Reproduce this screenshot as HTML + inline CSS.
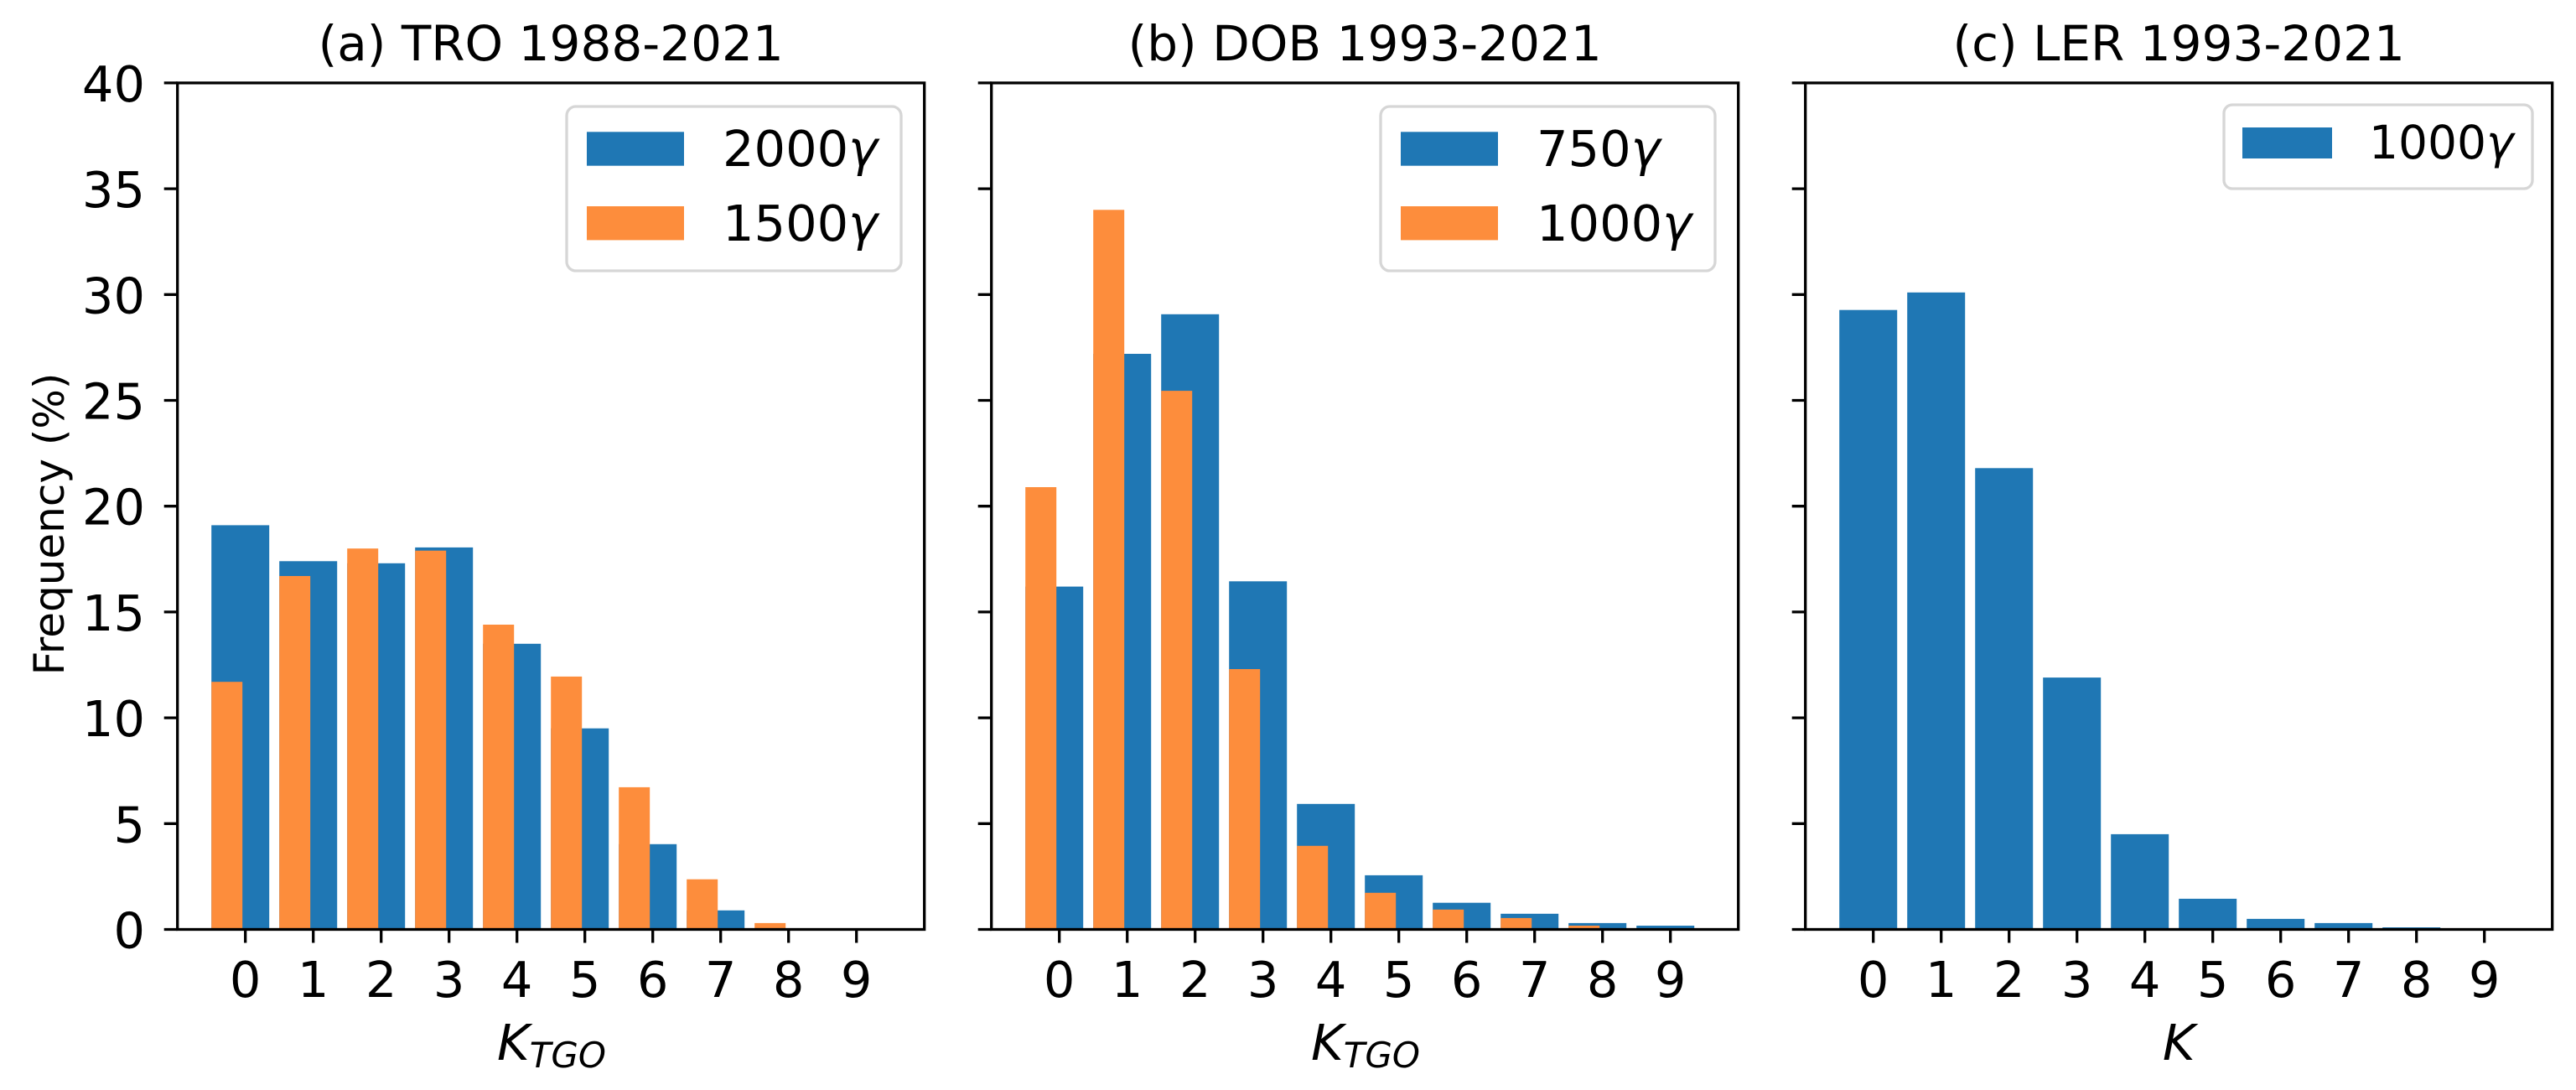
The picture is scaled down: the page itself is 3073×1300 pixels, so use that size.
<!DOCTYPE html>
<html>
<head>
<meta charset="utf-8">
<style>
  html, body { margin: 0; padding: 0; background: #ffffff; }
  body { width: 3073px; height: 1300px; overflow: hidden; }
  svg { display: block; }
  text { font-family: "DejaVu Sans", "Liberation Sans", sans-serif; fill: #000; }
</style>
</head>
<body>
<svg width="3073" height="1300" viewBox="0 0 3073 1300" xmlns="http://www.w3.org/2000/svg">
  <rect x="0" y="0" width="3073" height="1300" fill="#ffffff"/>

  <!-- ========== Panel (a) bars ========== -->
  <g fill="#1f77b4">
    <rect x="252.2" y="626.4" width="69" height="482.1"/>
    <rect x="333.2" y="669.3" width="69" height="439.2"/>
    <rect x="414.2" y="671.8" width="69" height="436.7"/>
    <rect x="495.2" y="652.9" width="69" height="455.6"/>
    <rect x="576.2" y="767.8" width="69" height="340.7"/>
    <rect x="657.2" y="868.7" width="69" height="239.8"/>
    <rect x="738.2" y="1006.8" width="69" height="101.7"/>
    <rect x="819.2" y="1085.8" width="69" height="22.7"/>
  </g>
  <g fill="#fd8d3c">
    <rect x="252.2" y="813.2" width="37" height="295.3"/>
    <rect x="333.2" y="687.0" width="37" height="421.5"/>
    <rect x="414.2" y="654.2" width="37" height="454.3"/>
    <rect x="495.2" y="656.7" width="37" height="451.8"/>
    <rect x="576.2" y="745.0" width="37" height="363.5"/>
    <rect x="657.2" y="806.9" width="37" height="301.6"/>
    <rect x="738.2" y="938.9" width="37" height="169.6"/>
    <rect x="819.2" y="1048.7" width="37" height="59.8"/>
    <rect x="900.2" y="1100.9" width="37" height="7.6"/>
  </g>

  <!-- ========== Panel (b) bars ========== -->
  <g fill="#1f77b4">
    <rect x="1223.2" y="699.6" width="69" height="408.9"/>
    <rect x="1304.2" y="422.0" width="69" height="686.5"/>
    <rect x="1385.2" y="374.8" width="69" height="733.7"/>
    <rect x="1466.2" y="693.3" width="69" height="415.2"/>
    <rect x="1547.2" y="958.8" width="69" height="149.7"/>
    <rect x="1628.2" y="1043.9" width="69" height="64.6"/>
    <rect x="1709.2" y="1076.7" width="69" height="31.8"/>
    <rect x="1790.2" y="1089.8" width="69" height="18.7"/>
    <rect x="1871.2" y="1100.9" width="69" height="7.6"/>
    <rect x="1952.2" y="1104.0" width="69" height="4.5"/>
  </g>
  <g fill="#fd8d3c">
    <rect x="1223.2" y="581.0" width="37" height="527.5"/>
    <rect x="1304.2" y="250.3" width="37" height="858.2"/>
    <rect x="1385.2" y="466.1" width="37" height="642.4"/>
    <rect x="1466.2" y="798.0" width="37" height="310.5"/>
    <rect x="1547.2" y="1008.8" width="37" height="99.7"/>
    <rect x="1628.2" y="1064.8" width="37" height="43.7"/>
    <rect x="1709.2" y="1084.8" width="37" height="23.7"/>
    <rect x="1790.2" y="1094.9" width="37" height="13.6"/>
    <rect x="1871.2" y="1104.0" width="37" height="4.5"/>
  </g>

  <!-- ========== Panel (c) bars ========== -->
  <g fill="#1f77b4">
    <rect x="2194.2" y="369.7" width="69" height="738.8"/>
    <rect x="2275.2" y="348.8" width="69" height="759.7"/>
    <rect x="2356.2" y="558.3" width="69" height="550.2"/>
    <rect x="2437.2" y="808.1" width="69" height="300.4"/>
    <rect x="2518.2" y="994.9" width="69" height="113.6"/>
    <rect x="2599.2" y="1071.9" width="69" height="36.6"/>
    <rect x="2680.2" y="1095.9" width="69" height="12.6"/>
    <rect x="2761.2" y="1100.9" width="69" height="7.6"/>
    <rect x="2842.2" y="1106.0" width="69" height="2.5"/>
    <rect x="2923.2" y="1107.2" width="69" height="1.3"/>
  </g>

  <!-- ========== Spines ========== -->
  <g fill="none" stroke="#000" stroke-width="3.3">
    <rect x="211.7" y="98.9" width="891" height="1009.6"/>
    <rect x="1182.7" y="98.9" width="891" height="1009.6"/>
    <rect x="2153.7" y="98.9" width="891" height="1009.6"/>
  </g>

  <!-- ========== Y ticks ========== -->
  <g stroke="#000" stroke-width="3.3">
    <line x1="195.7" y1="1108.5" x2="211.7" y2="1108.5"/>
    <line x1="195.7" y1="982.3" x2="211.7" y2="982.3"/>
    <line x1="195.7" y1="856.1" x2="211.7" y2="856.1"/>
    <line x1="195.7" y1="729.9" x2="211.7" y2="729.9"/>
    <line x1="195.7" y1="603.7" x2="211.7" y2="603.7"/>
    <line x1="195.7" y1="477.5" x2="211.7" y2="477.5"/>
    <line x1="195.7" y1="351.3" x2="211.7" y2="351.3"/>
    <line x1="195.7" y1="225.1" x2="211.7" y2="225.1"/>
    <line x1="195.7" y1="98.9" x2="211.7" y2="98.9"/>

    <line x1="1166.7" y1="1108.5" x2="1182.7" y2="1108.5"/>
    <line x1="1166.7" y1="982.3" x2="1182.7" y2="982.3"/>
    <line x1="1166.7" y1="856.1" x2="1182.7" y2="856.1"/>
    <line x1="1166.7" y1="729.9" x2="1182.7" y2="729.9"/>
    <line x1="1166.7" y1="603.7" x2="1182.7" y2="603.7"/>
    <line x1="1166.7" y1="477.5" x2="1182.7" y2="477.5"/>
    <line x1="1166.7" y1="351.3" x2="1182.7" y2="351.3"/>
    <line x1="1166.7" y1="225.1" x2="1182.7" y2="225.1"/>
    <line x1="1166.7" y1="98.9" x2="1182.7" y2="98.9"/>

    <line x1="2137.7" y1="1108.5" x2="2153.7" y2="1108.5"/>
    <line x1="2137.7" y1="982.3" x2="2153.7" y2="982.3"/>
    <line x1="2137.7" y1="856.1" x2="2153.7" y2="856.1"/>
    <line x1="2137.7" y1="729.9" x2="2153.7" y2="729.9"/>
    <line x1="2137.7" y1="603.7" x2="2153.7" y2="603.7"/>
    <line x1="2137.7" y1="477.5" x2="2153.7" y2="477.5"/>
    <line x1="2137.7" y1="351.3" x2="2153.7" y2="351.3"/>
    <line x1="2137.7" y1="225.1" x2="2153.7" y2="225.1"/>
    <line x1="2137.7" y1="98.9" x2="2153.7" y2="98.9"/>
  </g>

  <!-- ========== X ticks ========== -->
  <g stroke="#000" stroke-width="3.3">
    <line x1="292.7" y1="1108.5" x2="292.7" y2="1124.5"/>
    <line x1="373.7" y1="1108.5" x2="373.7" y2="1124.5"/>
    <line x1="454.7" y1="1108.5" x2="454.7" y2="1124.5"/>
    <line x1="535.7" y1="1108.5" x2="535.7" y2="1124.5"/>
    <line x1="616.7" y1="1108.5" x2="616.7" y2="1124.5"/>
    <line x1="697.7" y1="1108.5" x2="697.7" y2="1124.5"/>
    <line x1="778.7" y1="1108.5" x2="778.7" y2="1124.5"/>
    <line x1="859.7" y1="1108.5" x2="859.7" y2="1124.5"/>
    <line x1="940.7" y1="1108.5" x2="940.7" y2="1124.5"/>
    <line x1="1021.7" y1="1108.5" x2="1021.7" y2="1124.5"/>

    <line x1="1263.7" y1="1108.5" x2="1263.7" y2="1124.5"/>
    <line x1="1344.7" y1="1108.5" x2="1344.7" y2="1124.5"/>
    <line x1="1425.7" y1="1108.5" x2="1425.7" y2="1124.5"/>
    <line x1="1506.7" y1="1108.5" x2="1506.7" y2="1124.5"/>
    <line x1="1587.7" y1="1108.5" x2="1587.7" y2="1124.5"/>
    <line x1="1668.7" y1="1108.5" x2="1668.7" y2="1124.5"/>
    <line x1="1749.7" y1="1108.5" x2="1749.7" y2="1124.5"/>
    <line x1="1830.7" y1="1108.5" x2="1830.7" y2="1124.5"/>
    <line x1="1911.7" y1="1108.5" x2="1911.7" y2="1124.5"/>
    <line x1="1992.7" y1="1108.5" x2="1992.7" y2="1124.5"/>

    <line x1="2234.7" y1="1108.5" x2="2234.7" y2="1124.5"/>
    <line x1="2315.7" y1="1108.5" x2="2315.7" y2="1124.5"/>
    <line x1="2396.7" y1="1108.5" x2="2396.7" y2="1124.5"/>
    <line x1="2477.7" y1="1108.5" x2="2477.7" y2="1124.5"/>
    <line x1="2558.7" y1="1108.5" x2="2558.7" y2="1124.5"/>
    <line x1="2639.7" y1="1108.5" x2="2639.7" y2="1124.5"/>
    <line x1="2720.7" y1="1108.5" x2="2720.7" y2="1124.5"/>
    <line x1="2801.7" y1="1108.5" x2="2801.7" y2="1124.5"/>
    <line x1="2882.7" y1="1108.5" x2="2882.7" y2="1124.5"/>
    <line x1="2963.7" y1="1108.5" x2="2963.7" y2="1124.5"/>
  </g>

  <!-- ========== Y tick labels ========== -->
  <g font-size="59" text-anchor="end">
    <text x="173" y="1130.5">0</text>
    <text x="173" y="1004.3">5</text>
    <text x="173" y="878.1">10</text>
    <text x="173" y="751.9">15</text>
    <text x="173" y="625.7">20</text>
    <text x="173" y="499.5">25</text>
    <text x="173" y="373.3">30</text>
    <text x="173" y="247.1">35</text>
    <text x="173" y="120.9">40</text>
  </g>

  <!-- ========== X tick labels ========== -->
  <g font-size="59" text-anchor="middle">
    <text x="292.7" y="1189">0</text>
    <text x="373.7" y="1189">1</text>
    <text x="454.7" y="1189">2</text>
    <text x="535.7" y="1189">3</text>
    <text x="616.7" y="1189">4</text>
    <text x="697.7" y="1189">5</text>
    <text x="778.7" y="1189">6</text>
    <text x="859.7" y="1189">7</text>
    <text x="940.7" y="1189">8</text>
    <text x="1021.7" y="1189">9</text>

    <text x="1263.7" y="1189">0</text>
    <text x="1344.7" y="1189">1</text>
    <text x="1425.7" y="1189">2</text>
    <text x="1506.7" y="1189">3</text>
    <text x="1587.7" y="1189">4</text>
    <text x="1668.7" y="1189">5</text>
    <text x="1749.7" y="1189">6</text>
    <text x="1830.7" y="1189">7</text>
    <text x="1911.7" y="1189">8</text>
    <text x="1992.7" y="1189">9</text>

    <text x="2234.7" y="1189">0</text>
    <text x="2315.7" y="1189">1</text>
    <text x="2396.7" y="1189">2</text>
    <text x="2477.7" y="1189">3</text>
    <text x="2558.7" y="1189">4</text>
    <text x="2639.7" y="1189">5</text>
    <text x="2720.7" y="1189">6</text>
    <text x="2801.7" y="1189">7</text>
    <text x="2882.7" y="1189">8</text>
    <text x="2963.7" y="1189">9</text>
  </g>

  <!-- ========== Titles ========== -->
  <g font-size="58" text-anchor="middle">
    <text x="657.2" y="72">(a) TRO 1988-2021</text>
    <text x="1628.2" y="72">(b) DOB 1993-2021</text>
    <text x="2599.2" y="72">(c) LER 1993-2021</text>
  </g>

  <!-- ========== X labels ========== -->
  <text x="658" y="1264" font-size="59" font-style="italic" text-anchor="middle">K<tspan font-size="42" dy="9">TGO</tspan></text>
  <text x="1629" y="1264" font-size="59" font-style="italic" text-anchor="middle">K<tspan font-size="42" dy="9">TGO</tspan></text>
  <text x="2599.2" y="1264" font-size="59" font-style="italic" text-anchor="middle">K</text>

  <!-- ========== Y label ========== -->
  <text transform="translate(76,625) rotate(-90)" font-size="50" text-anchor="middle">Frequency (%)</text>

  <!-- ========== Legend (a) ========== -->
  <rect x="676" y="127" width="399" height="196" rx="11" ry="11" fill="#ffffff" fill-opacity="0.8" stroke="#d6d6d6" stroke-width="3.3"/>
  <rect x="700" y="157.3" width="116" height="40.4" fill="#1f77b4"/>
  <rect x="700" y="246" width="116" height="40.4" fill="#fd8d3c"/>
  <text x="862" y="198" font-size="59">2000<tspan font-style="italic">γ</tspan></text>
  <text x="862" y="287" font-size="59">1500<tspan font-style="italic">γ</tspan></text>

  <!-- ========== Legend (b) ========== -->
  <rect x="1647" y="127" width="399" height="196" rx="11" ry="11" fill="#ffffff" fill-opacity="0.8" stroke="#d6d6d6" stroke-width="3.3"/>
  <rect x="1671" y="157.3" width="116" height="40.4" fill="#1f77b4"/>
  <rect x="1671" y="246" width="116" height="40.4" fill="#fd8d3c"/>
  <text x="1833" y="198" font-size="59">750<tspan font-style="italic">γ</tspan></text>
  <text x="1833" y="287" font-size="59">1000<tspan font-style="italic">γ</tspan></text>

  <!-- ========== Legend (c) ========== -->
  <rect x="2653" y="125" width="368" height="100" rx="10" ry="10" fill="#ffffff" fill-opacity="0.8" stroke="#d6d6d6" stroke-width="3.3"/>
  <rect x="2675" y="152" width="107" height="37" fill="#1f77b4"/>
  <text x="2826" y="189" font-size="55">1000<tspan font-style="italic">γ</tspan></text>
</svg>
</body>
</html>
